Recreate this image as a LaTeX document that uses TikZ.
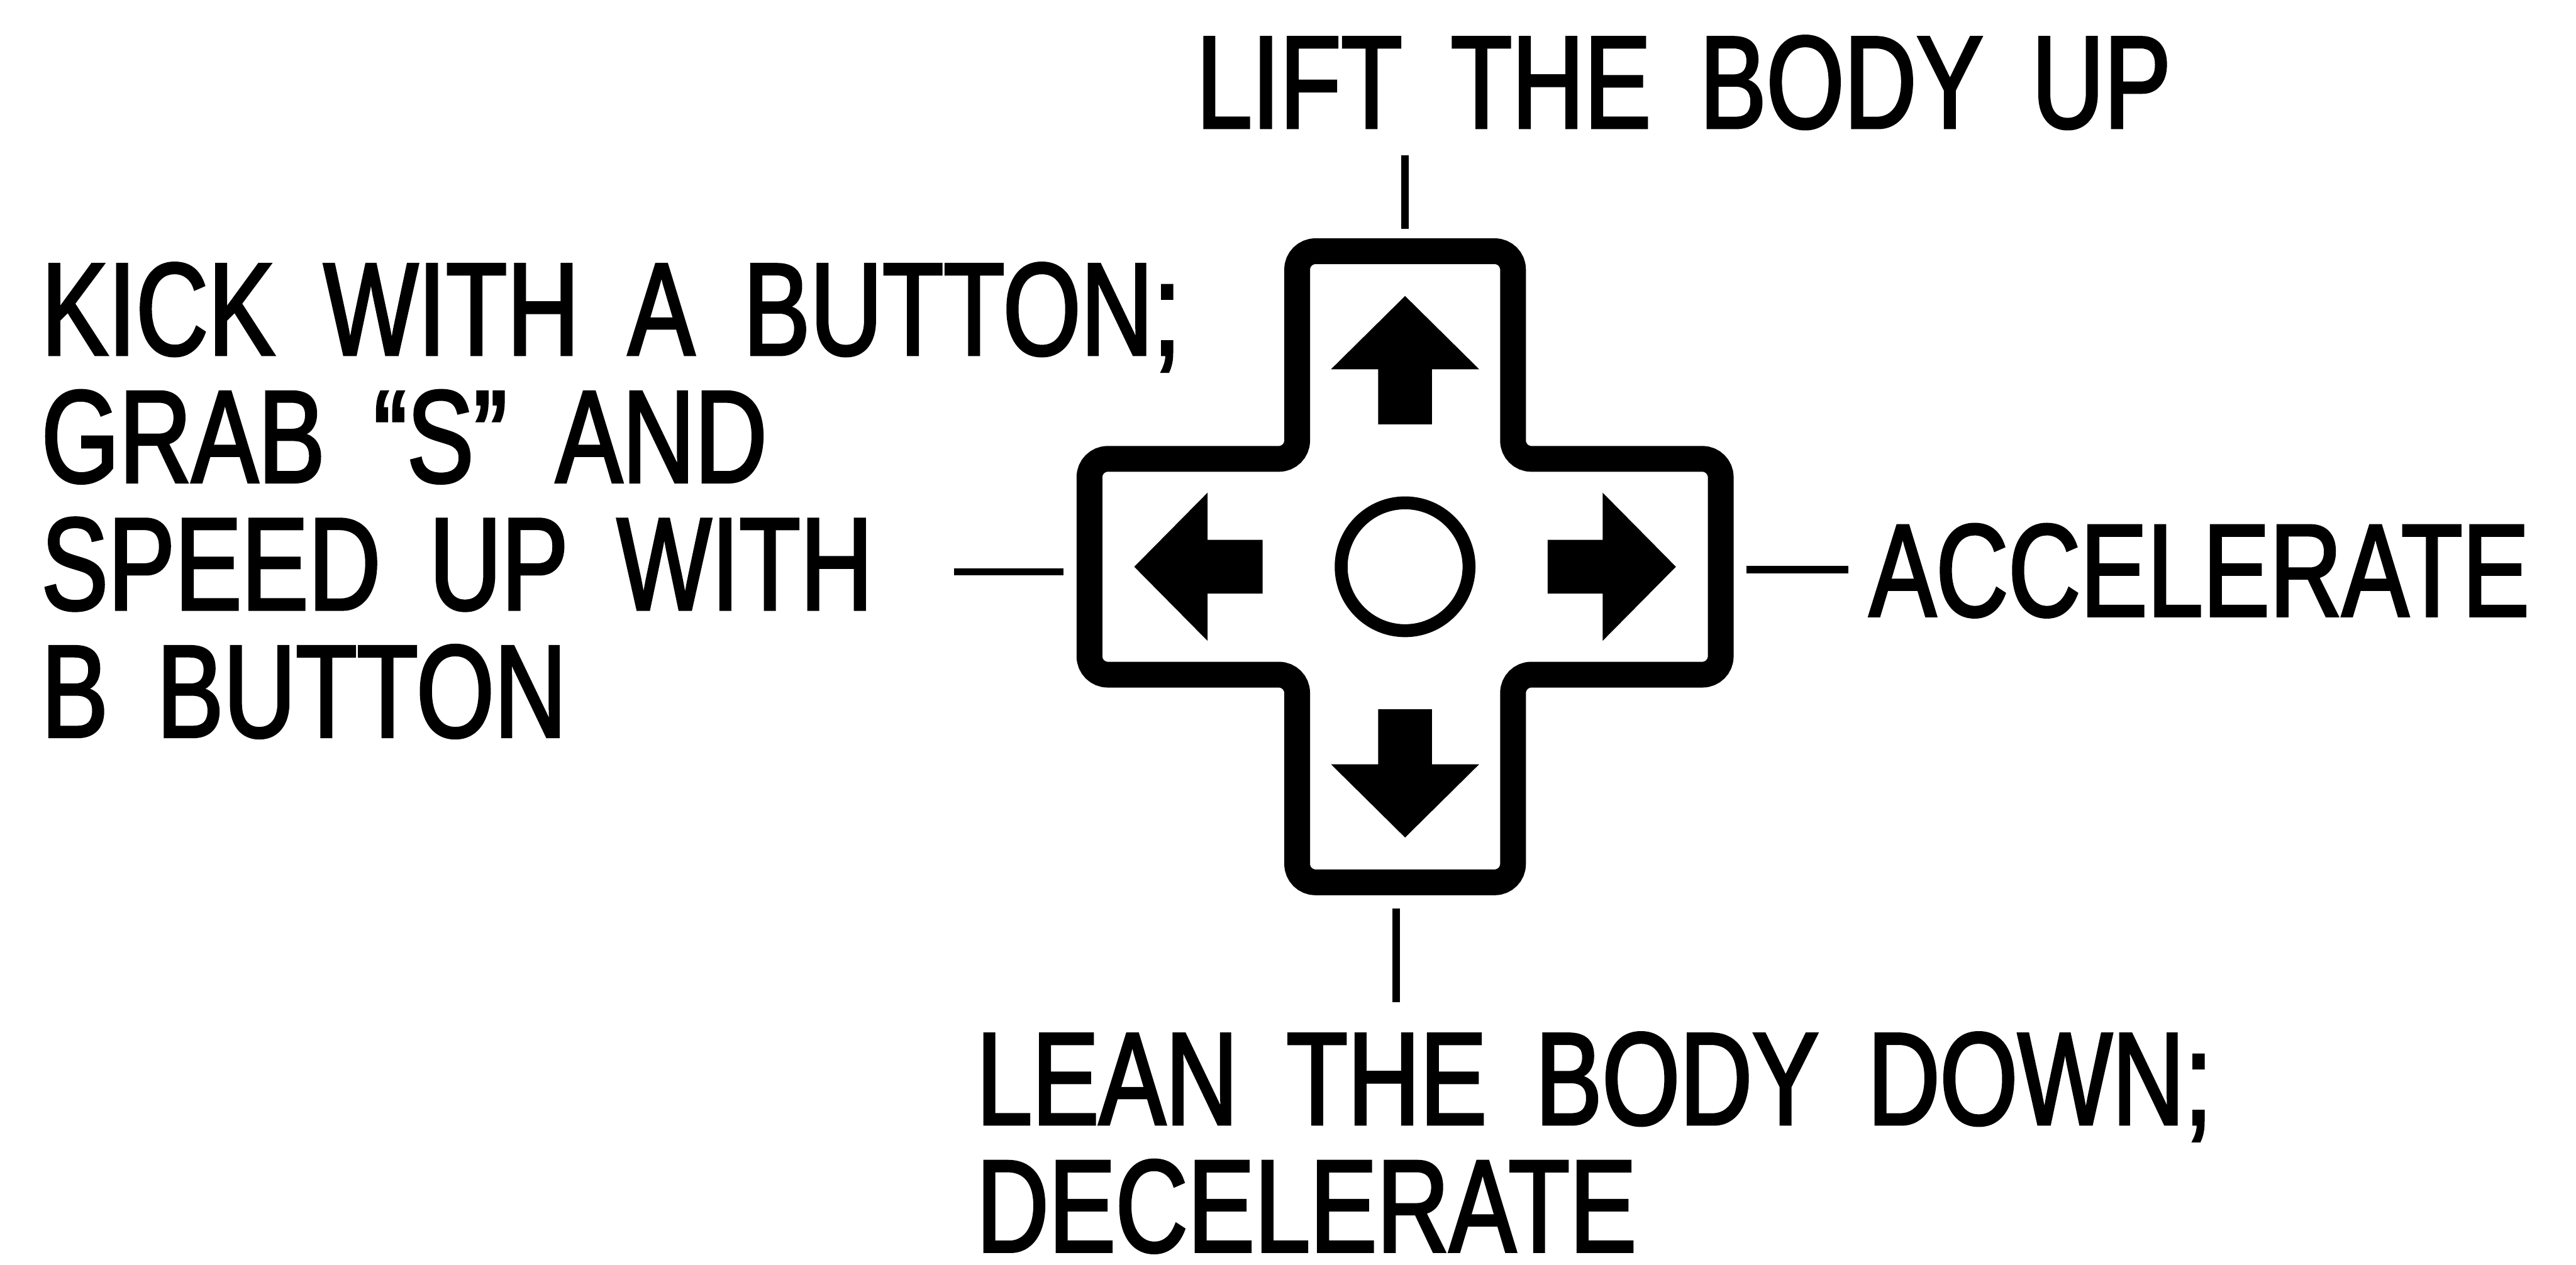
\documentclass[tikz,border=0pt]{standalone}
\usepackage{fontspec}
\setmainfont{Liberation Sans}[FakeStretch=0.76,WordSpace=1.75,FakeBold=2]
\begin{document}
\begin{tikzpicture}[declare function={a=2.65;L=7.75;},font={\fontsize{92}{89}\selectfont},
	lbl/.style={inner sep=0pt,align=left},
	tick/.style={line width=5pt}]
	\useasboundingbox (-34.5,-17.14) rectangle (28.75,13.92);
	\draw[line width=18pt,rounded corners=0.45cm] (0,L)--(a,L)--(a,a)--(L,a)--(L,-a)
		--(a,-a)--(a,-L)--(-a,-L)--(-a,-a)--(-L,-a)--(-L,a)--(-a,a)--(-a,L)--cycle;
	\draw[line width=9pt] (0,0) circle (1.57);
	\foreach \ang in {0,90,180,270}{
		\fill[rotate=\ang] (0,6.65)--(1.82,4.85)--(0.66,4.85)--(0.66,3.5)--(-0.66,3.5)
			--(-0.66,4.85)--(-1.82,4.85)--cycle;
	}
	\node[lbl,anchor=base west] (lift) at (-5.13,10.78) {LIFT THE BODY UP};
	\node[lbl,anchor=north west] (kick) at (-33.49,7.47) {KICK WITH A BUTTON;\\
		GRAB ``S'' AND\\SPEED UP WITH\\B BUTTON};
	\node[lbl,anchor=base west] (accel) at (11.39,-1.21) {ACCELERATE};
	\node[lbl,anchor=north west] (lean) at (-10.53,-11.43) {LEAN THE BODY DOWN;\\DECELERATE};
	\path (0,10.1) coordinate (U) (0,8.3) coordinate (U_1)
		(-0.22,-8.4) coordinate (D) (-0.22,-10.7) coordinate (D_1)
		(-11.07,-0.12) coordinate (W) (-8.39,-0.12) coordinate (W_1)
		(8.38,-0.07) coordinate (E) (10.89,-0.07) coordinate (E_1);
	\draw[tick] (U)--(U_1) (D)--(D_1) (W)--(W_1) (E)--(E_1);
\end{tikzpicture}
\end{document}
